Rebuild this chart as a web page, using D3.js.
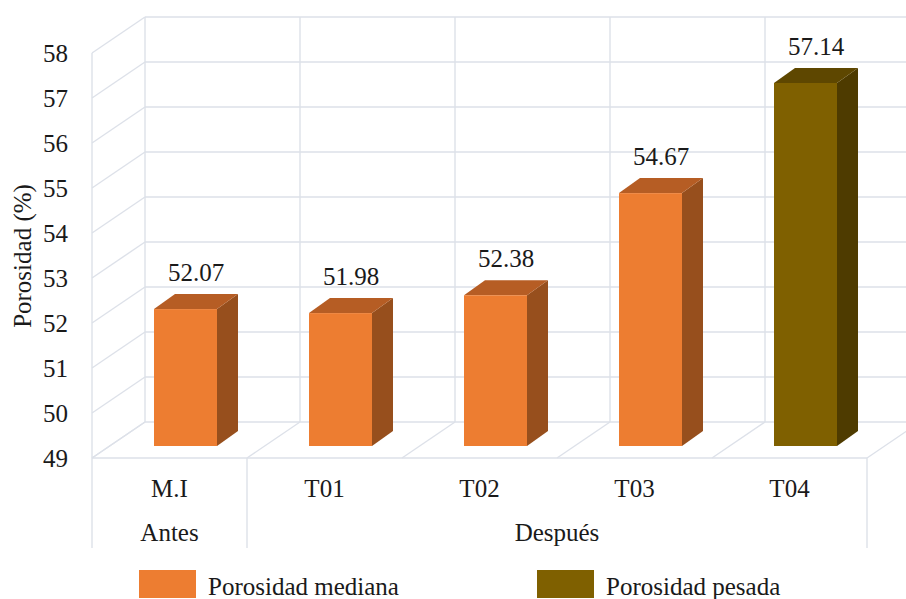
<!DOCTYPE html>
<html>
<head>
<meta charset="utf-8">
<script src="https://cdn.jsdelivr.net/npm/d3@7"></script>
<style>
  html, body { margin: 0; padding: 0; background: #fff; }
  svg { display: block; }
</style>
</head>
<body>
<script>
// ---- data ----
const categories = ["M.I", "T01", "T02", "T03", "T04"];
const groups = [{ name: "Antes", from: 0, to: 0 }, { name: "Después", from: 1, to: 4 }];
const seriesNames = ["Porosidad mediana", "Porosidad pesada"];
const medianaValues = [52.07, 51.98, 52.38, 54.67, null];
const pesadaValues = [null, null, null, null, 57.14];
const yTicks = [49, 50, 51, 52, 53, 54, 55, 56, 57, 58];
const yTitle = "Porosidad (%)";

// ---- styles ----
const W = 906, H = 599;
const FONT = "'Liberation Serif', 'Times New Roman', Tinos, 'DejaVu Serif', serif";
const gridColor = "#DDE1E9";
const colors = {
  "Porosidad mediana": { front: "#ED7D31", top: "#B65D24", side: "#974F1D" },
  "Porosidad pesada": { front: "#7F6000", top: "#5E4700", side: "#4E3B00" }
};
const DX = 53, DY = -36;       // wall depth offset
const BDX = 21, BDY = -15;     // bar depth offset

const svg = d3.select("body").append("svg").attr("width", W).attr("height", H)
  .attr("font-family", FONT).style("font-family", FONT);

// scales
const xFront = d3.scaleBand().domain(categories).range([92, 867]).padding(0);
const yFront = d3.scaleLinear().domain([49, 58]).range([458, 53]);
const xBar = d3.scaleBand().domain(categories).range([108, 883]).padding(0);
const yBar = d3.scaleLinear().domain([49, 58]).range([446, 44.6]);
const barW = 63;

const grid = svg.append("g").attr("stroke", gridColor).attr("stroke-width", 1.4).attr("fill", "none");
const x0 = xFront.range()[0], x1 = xFront.range()[1];

yTicks.forEach(t => {
  const yf = yFront(t);
  grid.append("line").attr("x1", x0 + DX).attr("x2", x1 + DX).attr("y1", yf + DY).attr("y2", yf + DY);
  grid.append("line").attr("x1", x0).attr("y1", yf).attr("x2", x0 + DX).attr("y2", yf + DY);
});
grid.append("line").attr("x1", x0).attr("x2", x0).attr("y1", yFront(58)).attr("y2", yFront(49));
const bounds = categories.map(c => xFront(c)).concat([x1]);
bounds.forEach(bx => {
  grid.append("line").attr("x1", bx + DX).attr("x2", bx + DX).attr("y1", yFront(58) + DY).attr("y2", yFront(49) + DY);
  grid.append("line").attr("x1", bx).attr("y1", yFront(49)).attr("x2", bx + DX).attr("y2", yFront(49) + DY);
});
grid.append("line").attr("x1", x0).attr("x2", x1).attr("y1", yFront(49)).attr("y2", yFront(49));
const sepBottom = 548;
const sepXs = [x0];
groups.forEach(g => sepXs.push(xFront(categories[g.to]) + xFront.bandwidth()));
sepXs.forEach(sx => {
  grid.append("line").attr("x1", sx).attr("x2", sx).attr("y1", yFront(49)).attr("y2", sepBottom);
});

const txt = sel => sel.attr("font-family", FONT).attr("fill", "#1a1a1a").attr("font-size", 25);

// y tick labels
svg.append("g").selectAll("text").data(yTicks).join("text")
  .call(txt)
  .attr("x", 68).attr("y", d => yFront(d)).attr("dy", "0.35em")
  .attr("text-anchor", "end").text(d => d);

// y title
svg.append("text").call(txt).attr("transform", "translate(31,256) rotate(-90)")
  .attr("text-anchor", "middle").text(yTitle);

// bars
const bars = [];
categories.forEach((c, i) => {
  if (medianaValues[i] != null) bars.push({ cat: c, v: medianaValues[i], s: seriesNames[0] });
  if (pesadaValues[i] != null) bars.push({ cat: c, v: pesadaValues[i], s: seriesNames[1] });
});
const bg = svg.append("g");
bars.forEach(b => {
  const cx = xBar(b.cat) + xBar.bandwidth() / 2;
  const xl = cx - barW / 2, xr = cx + barW / 2;
  const yt = yBar(b.v), yb = yBar(49);
  const col = colors[b.s];
  bg.append("path").attr("fill", col.side)
    .attr("d", `M${xr},${yt}L${xr + BDX},${yt + BDY}L${xr + BDX},${yb + BDY}L${xr},${yb}Z`);
  bg.append("path").attr("fill", col.top)
    .attr("d", `M${xl},${yt}L${xl + BDX},${yt + BDY}L${xr + BDX},${yt + BDY}L${xr},${yt}Z`);
  bg.append("rect").attr("fill", col.front).attr("x", xl).attr("y", yt).attr("width", barW).attr("height", yb - yt);
  bg.append("text").call(txt).attr("x", cx + BDX / 2).attr("y", yt + BDY - 13)
    .attr("text-anchor", "middle").text(d3.format(".2f")(b.v));
});

// category labels
svg.append("g").selectAll("text").data(categories).join("text").call(txt)
  .attr("x", d => xFront(d) + xFront.bandwidth() / 2).attr("y", 497)
  .attr("text-anchor", "middle").text(d => d);
// group labels
svg.append("g").selectAll("text").data(groups).join("text").call(txt)
  .attr("x", g => (xFront(categories[g.from]) + xFront(categories[g.to]) + xFront.bandwidth()) / 2)
  .attr("y", 541).attr("text-anchor", "middle").text(g => g.name);

// legend
const legendX = [139, 537];
const lg = svg.append("g");
seriesNames.forEach((s, i) => {
  lg.append("rect").attr("x", legendX[i]).attr("y", 570).attr("width", 57).attr("height", 28).attr("fill", colors[s].front);
  lg.append("text").call(txt).attr("x", legendX[i] + 69).attr("y", 595).text(s);
});
</script>
</body>
</html>
